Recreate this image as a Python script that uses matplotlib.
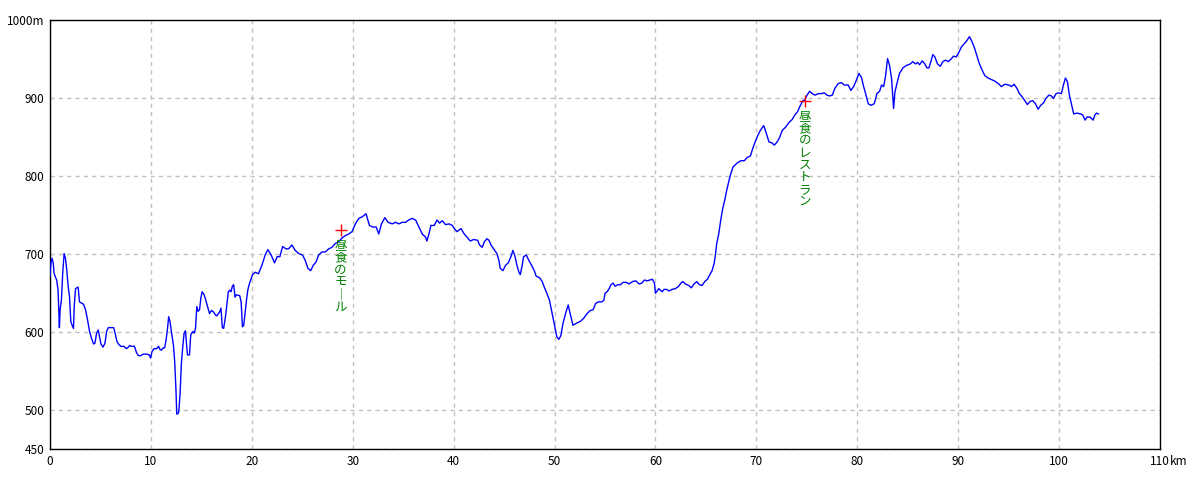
import matplotlib
matplotlib.use("Agg")
import matplotlib.pyplot as plt

# elevation profile (km, m)
dist_km = [
    0.0, 0.1, 0.2, 0.33, 0.4, 0.53, 0.66, 0.8, 0.93, 1.0,
    1.13, 1.26, 1.4, 1.53, 1.66, 1.8, 1.93, 2.06, 2.19, 2.33,
    2.4, 2.53, 2.79, 2.92, 3.06, 3.32, 3.52, 3.72, 3.92, 4.12,
    4.32, 4.45, 4.62, 4.78, 4.92, 5.05, 5.25, 5.45, 5.61, 5.78,
    6.31, 6.45, 6.64, 6.84, 7.04, 7.31, 7.57, 7.77, 7.9, 8.1,
    8.37, 8.57, 8.77, 8.97, 9.24, 9.63, 9.83, 9.97, 10.1, 10.3,
    10.56, 10.76, 10.9, 11.03, 11.23, 11.36, 11.5, 11.63, 11.76, 11.89,
    12.03, 12.23, 12.36, 12.49, 12.56, 12.69, 12.76, 12.89, 13.02, 13.16,
    13.29, 13.42, 13.55, 13.62, 13.82, 13.95, 14.15, 14.29, 14.42, 14.55,
    14.68, 14.82, 14.95, 15.08, 15.28, 15.42, 15.61, 15.81, 16.01, 16.21,
    16.41, 16.54, 16.68, 16.81, 16.94, 17.08, 17.21, 17.41, 17.54, 17.67,
    17.81, 17.94, 18.07, 18.2, 18.34, 18.47, 18.8, 18.94, 19.07, 19.2,
    19.34, 19.47, 19.6, 19.73,
    20.07, 20.33, 20.66, 21.0, 21.32, 21.59, 21.92, 22.25, 22.52, 22.78,
    23.05, 23.38, 23.64, 23.97, 24.3, 24.64, 25.03, 25.3, 25.56, 25.83,
    26.09, 26.36, 26.62, 26.95, 27.28, 27.62, 27.95, 28.28, 28.61, 28.94,
    29.27, 29.6, 29.93, 30.26, 30.6, 30.93, 31.32, 31.66, 31.99, 32.32,
    32.58, 32.85, 33.18, 33.51, 33.91, 34.24, 34.57, 34.9, 35.23, 35.56,
    35.89, 36.23, 36.56, 36.89, 37.22, 37.35, 37.55, 37.75, 38.08,
    38.35, 38.6, 38.88, 39.2, 39.54, 39.87, 40.07, 40.33, 40.53, 40.73,
    41.0, 41.32, 41.65, 41.98, 42.38, 42.57, 42.84, 43.04, 43.3, 43.5,
    43.7, 43.96, 44.29, 44.49, 44.62, 44.88, 45.15, 45.41, 45.68, 45.87,
    46.07, 46.27, 46.47, 46.6, 46.8, 46.93, 47.2, 47.46, 47.72, 47.99,
    48.18, 48.51, 48.78, 48.98, 49.24, 49.5, 49.64, 49.83, 50.03, 50.23,
    50.43, 50.63, 50.83, 51.09, 51.35, 51.55, 51.82,
    52.23, 52.56, 52.89, 53.22, 53.55, 53.82, 54.08, 54.35, 54.68, 54.88,
    55.01, 55.21, 55.41, 55.6, 55.8, 56.0, 56.26, 56.53, 56.79, 57.12,
    57.39, 57.72, 58.05, 58.38, 58.64, 58.91, 59.17, 59.44, 59.7, 59.9,
    60.0, 60.33, 60.66, 60.86, 61.12, 61.32, 61.65, 61.98, 62.31, 62.51,
    62.71, 62.97, 63.3, 63.56, 63.83, 64.09, 64.36, 64.62, 64.88, 65.15,
    65.35, 65.61, 65.81, 65.94, 66.07, 66.27, 66.47, 66.67, 66.86, 67.06,
    67.26, 67.46, 67.69, 68.09, 68.48, 68.81, 69.08, 69.41,
    69.6, 69.87, 70.13, 70.4, 70.73, 70.99, 71.25, 71.52, 71.78, 72.05,
    72.31, 72.57, 72.9, 73.23, 73.56, 73.83, 74.09, 74.36, 74.62, 74.82,
    75.02, 75.28, 75.54, 75.81, 76.14, 76.47, 76.73, 77.0, 77.26, 77.52,
    77.79, 78.12, 78.45, 78.71,
    79.1, 79.37, 79.64, 79.9, 80.17, 80.43, 80.63, 80.83, 81.09, 81.35,
    81.68, 81.95, 82.21, 82.41, 82.61, 82.81, 83.0, 83.2, 83.4, 83.6,
    83.73, 83.93, 84.19, 84.52, 84.85, 85.25, 85.51, 85.78, 85.97, 86.17,
    86.44, 86.7, 86.9, 87.1, 87.29, 87.49, 87.69, 87.95, 88.22, 88.48,
    88.75, 89.01, 89.27, 89.54, 89.8, 90.07, 90.33, 90.59, 90.86, 91.12,
    91.32, 91.58, 91.85, 92.11, 92.38, 92.64, 92.97, 93.3, 93.63, 93.96,
    94.29, 94.62, 95.02, 95.28, 95.54, 95.81, 96.07, 96.34, 96.6, 96.86,
    97.13, 97.39, 97.66, 97.92, 98.18, 98.45, 98.71, 98.98, 99.24, 99.44,
    99.7, 99.97, 100.23, 100.43, 100.63, 100.83, 101.02, 101.22,
    101.45, 101.78, 102.11, 102.31, 102.44, 102.57, 102.77, 103.04, 103.23, 103.37,
    103.56, 103.7, 103.89,
]
elev_m = [
    672, 690, 695, 688, 676, 671, 667, 654, 606, 629,
    641, 676, 701, 695, 680, 659, 646, 614, 609, 605,
    633, 656, 658, 639, 638, 636, 629, 616, 601, 592,
    585, 586, 599, 603, 594, 585, 581, 586, 601, 606,
    606, 599, 588, 584, 582, 582, 579, 581, 583, 582,
    582, 574, 570, 570, 572, 572, 571, 567, 575, 579,
    579, 582, 578, 577, 580, 580, 590, 603, 620, 614,
    601, 584, 562, 524, 495, 496, 498, 521, 560, 582,
    599, 602, 582, 571, 571, 597, 601, 599, 605, 633,
    627, 629, 644, 652, 648, 642, 633, 624, 628, 626,
    622, 621, 624, 626, 631, 606, 605, 622, 637, 652,
    654, 652, 659, 661, 645, 648, 647, 639, 607, 609,
    626, 641, 654, 661,
    674, 677, 675, 686, 699, 706, 699, 689, 697, 697,
    710, 707, 707, 712, 705, 701, 699, 692, 682, 679,
    686, 690, 699, 703, 703, 707, 709, 714, 716, 721,
    724, 726, 729, 739, 746, 748, 752, 737, 735, 735,
    726, 739, 747, 741, 739, 741, 739, 741, 741, 744,
    746, 744, 735, 726, 722, 717, 726, 737, 737,
    744, 740, 743, 738, 739, 737, 733, 729, 731, 733,
    727, 722, 717, 719, 718, 712, 709, 716, 720, 718,
    712, 707, 701, 692, 682, 679, 686, 689, 697, 705,
    698, 686, 677, 674, 686, 697, 699, 692, 686, 679,
    672, 670, 665, 658, 650, 641, 632, 620, 607, 594,
    591, 596, 611, 624, 635, 624, 609,
    612, 614, 618, 624, 628, 629, 637, 639, 639, 641,
    650, 652, 656, 661, 663, 659, 661, 661, 664, 664,
    662, 665, 666, 662, 663, 667, 666, 667, 668, 663,
    650, 656, 652, 655, 655, 653, 655, 656, 659, 663,
    665, 662, 660, 657, 662, 665, 661, 660, 665, 668,
    673, 679, 688, 699, 714, 726, 744, 759, 769, 782,
    793, 803, 812, 817, 820, 820, 824, 826,
    834, 844, 852, 859, 865, 855, 844, 843, 840, 844,
    850, 859, 863, 869, 873, 879, 883, 891, 897, 898,
    904, 909, 906, 904, 906, 906, 907, 904, 903, 904,
    913, 919, 920, 917,
    917, 910, 915, 923, 932, 926, 915, 906, 893, 891,
    893, 906, 909, 917, 915, 929, 951, 942, 925, 887,
    908, 919, 932, 939, 942, 944, 947, 944, 946, 943,
    948, 944, 939, 939, 947, 956, 953, 944, 941, 947,
    949, 947, 950, 954, 953, 959, 966, 970, 974, 979,
    974, 966, 955, 944, 936, 929, 926, 924, 922, 919,
    915, 918, 917, 915, 918, 913, 906, 902, 897, 892,
    896, 897, 893, 886, 891, 894, 900, 904, 903, 900,
    906, 907, 906, 917, 926, 921, 904, 893,
    880, 881, 880, 879, 876, 872, 876, 876, 874, 872,
    879, 881, 880,
]

# lunch stops
stop_km = [28.8, 74.8]
stop_m = [731, 897]
stop_names = ["昼食のモ｜ル", "昼食のレストラン"]

x_ticks = list(range(0, 111, 10))
x_labels = [str(v) for v in x_ticks]
y_ticks = [450, 500, 600, 700, 800, 900, 1000]
y_labels = ["450", "500", "600", "700", "800", "900", "1000m"]

plt.rcParams["font.family"] = ["Noto Sans CJK JP", "DejaVu Sans"]

fig = plt.figure(figsize=(12, 4.8), dpi=100)
ax = fig.add_axes([50 / 1200, 1 - 449.3 / 480, 1110 / 1200, 429 / 480])

ax.plot(dist_km, elev_m, color="#0000ff", lw=1.0, zorder=3)
ax.plot(stop_km, stop_m, "+", color="#ff0000", ms=9, mew=1.0, zorder=4)

# vertical labels, one glyph per row
for km, m, name in zip(stop_km, stop_m, stop_names):
    for i, ch in enumerate(name):
        ax.annotate(ch, xy=(km, m), xytext=(0, -6.5 - i * 8.8),
                    textcoords="offset points", ha="center", va="top",
                    color="#008000", fontsize=9, zorder=5)

ax.set_xlim(0, 110)
ax.set_ylim(450, 1000)
ax.set_xticks(x_ticks)
ax.set_xticklabels(x_labels)
ax.set_yticks(y_ticks)
ax.set_yticklabels(y_labels)
ax.tick_params(axis="both", length=0, labelsize=8.5, colors="black")
ax.tick_params(axis="x", pad=4)
ax.tick_params(axis="y", pad=4)

ax.grid(True, color="#c0c0c0", linestyle=(0, (3, 3)), lw=1.0)
for s in ax.spines.values():
    s.set_color("black")
    s.set_linewidth(1.0)

ax.annotate("km", xy=(110, 450), xytext=(7, -4), textcoords="offset points",
            ha="left", va="top", fontsize=8.5)

fig.savefig("out.png", dpi=100, facecolor="white")
